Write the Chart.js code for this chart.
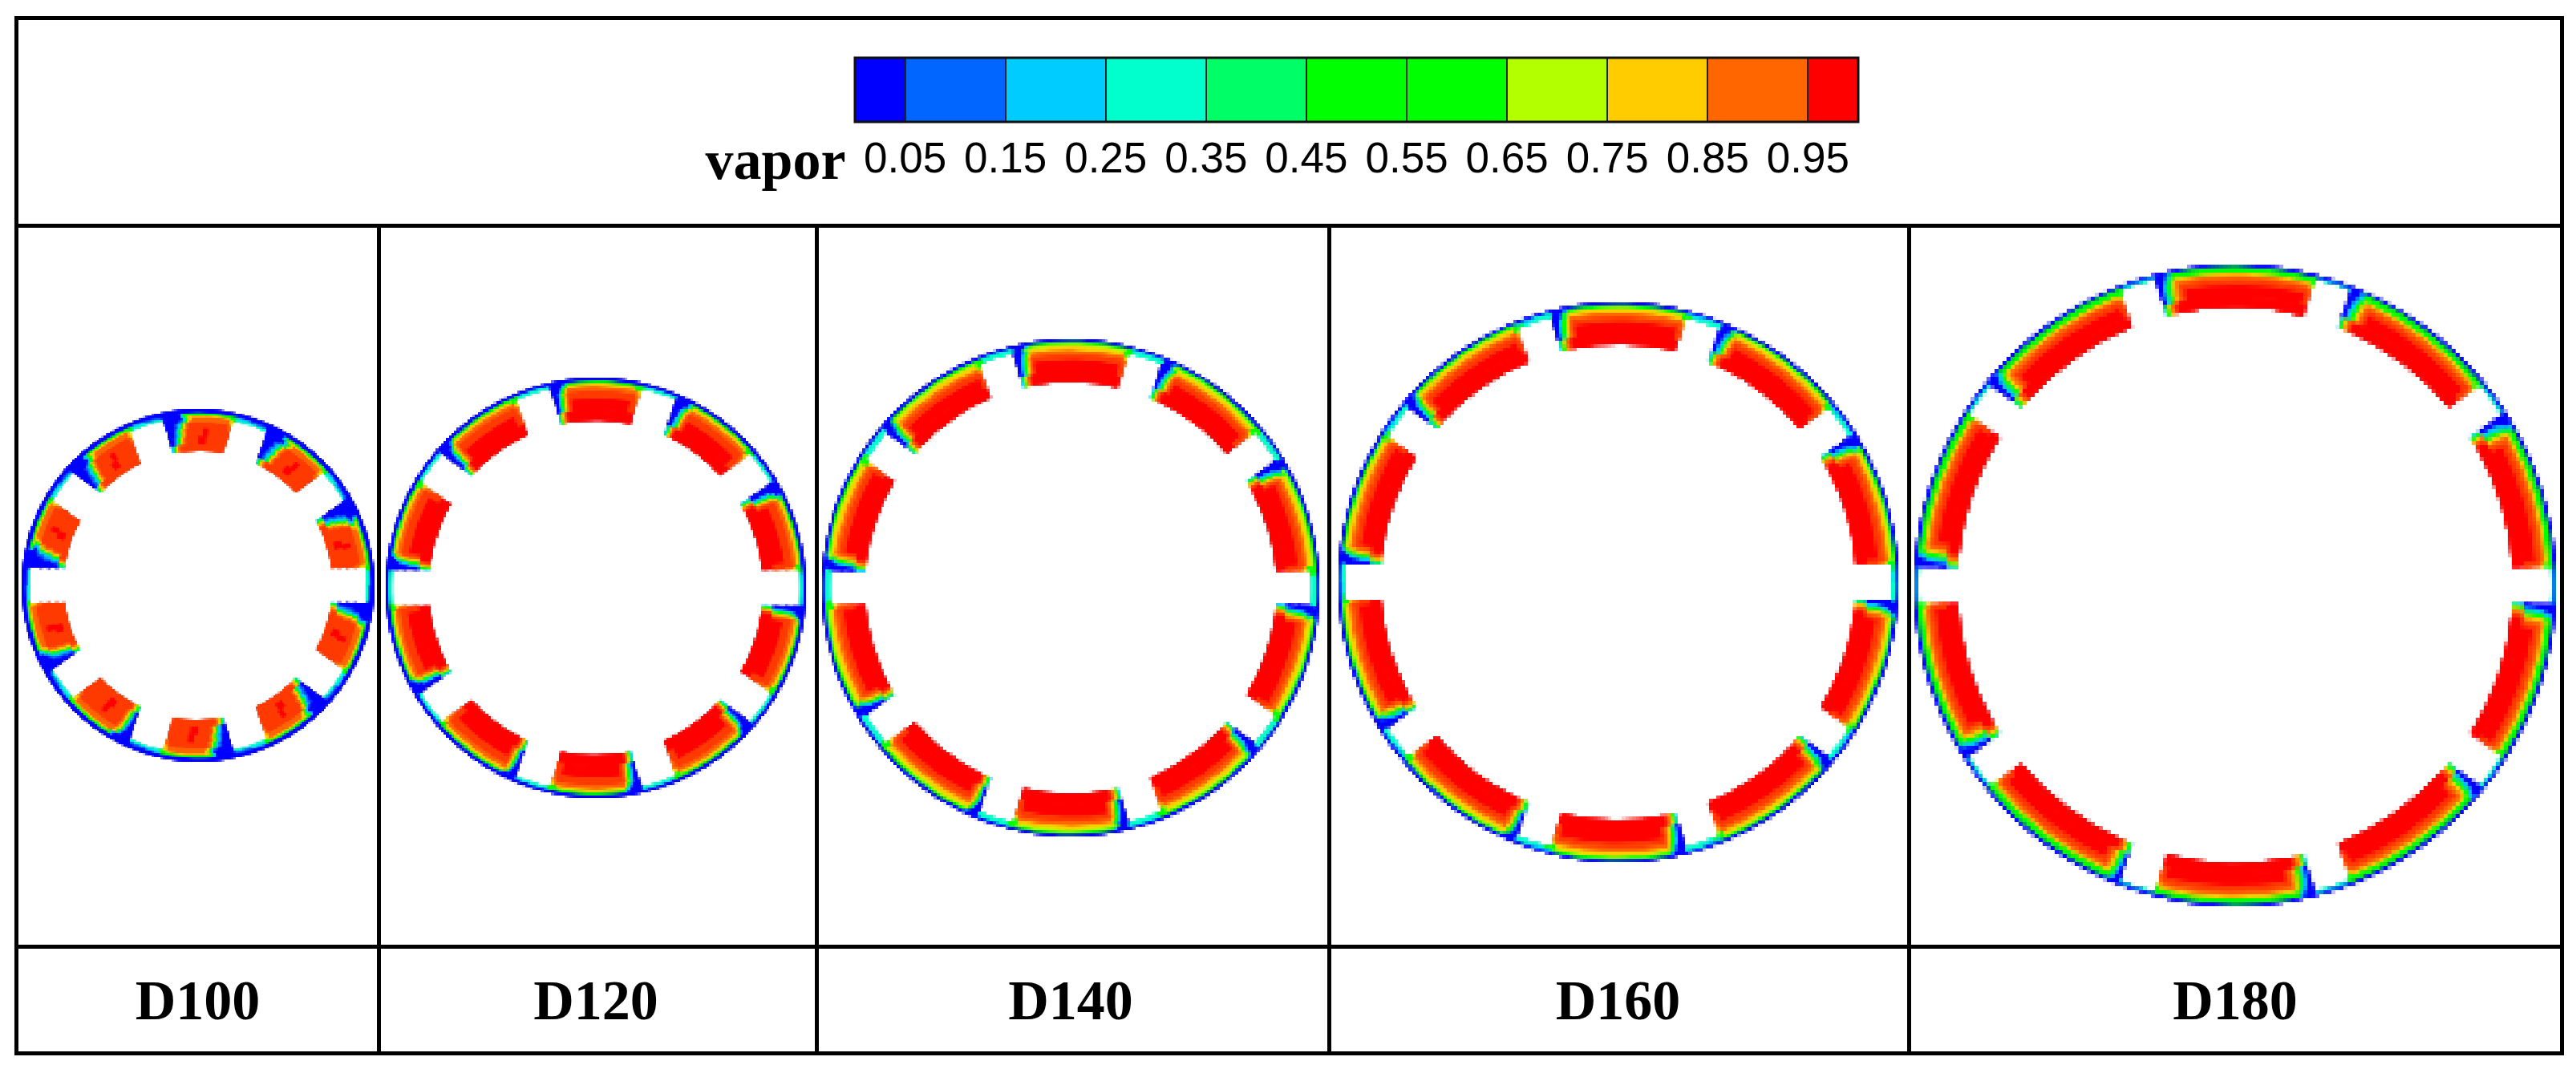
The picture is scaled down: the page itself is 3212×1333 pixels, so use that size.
<!DOCTYPE html>
<html lang="en">
<head>
<meta charset="UTF-8" />
<title>vapor contours D100-D180</title>
<script src="https://cdn.jsdelivr.net/npm/chart.js@4"></script>
<style>
  html, body { margin: 0; background: #fff; }
  body { position: relative; width: 3212px; height: 1333px; overflow: hidden; }
  .rule { position: absolute; background: #000; }
  canvas { position: absolute; }
  canvas.ring { image-rendering: pixelated; }
  .name { position: absolute; font: bold 70px "Liberation Serif", serif; line-height: 70px; transform: translateX(-50%); white-space: nowrap; }
</style>
</head>
<body>
<div class="rule" style="left:18px;top:20px;width:3179px;height:5px"></div>
<div class="rule" style="left:18px;top:279px;width:3179px;height:5px"></div>
<div class="rule" style="left:18px;top:1178px;width:3179px;height:5px"></div>
<div class="rule" style="left:18px;top:1311px;width:3179px;height:5px"></div>
<div class="rule" style="left:18px;top:20px;width:5px;height:1296px"></div>
<div class="rule" style="left:3192px;top:20px;width:5px;height:1296px"></div>
<div class="rule" style="left:470px;top:279px;width:5px;height:1037px"></div>
<div class="rule" style="left:1016px;top:279px;width:5px;height:1037px"></div>
<div class="rule" style="left:1655px;top:279px;width:5px;height:1037px"></div>
<div class="rule" style="left:2378px;top:279px;width:5px;height:1037px"></div>
<div class="name" style="left:967px;top:165px">vapor</div>

<canvas id="colorbar"></canvas>
<script>
// colour bar bins
const vaporEdges = [0, 0.05, 0.15, 0.25, 0.35, 0.45, 0.55, 0.65, 0.75, 0.85, 0.95, 1];
const vaporTicks = [0.05, 0.15, 0.25, 0.35, 0.45, 0.55, 0.65, 0.75, 0.85, 0.95];
const vaporColors = ["#0000ff", "#0066ff", "#00ccff", "#00ffcc", "#00ff66", "#00ff00", "#00ff00", "#b3ff00", "#ffcc00", "#ff6600", "#ff0000"];
const bladeCount = 10;

// ring tables: radii run outside to inside, each ring is one blade pitch read
// clockwise from the slot edge as bin numbers and degrees. null = rest of the blade
const d100Radii = [220, 215, 212, 210, 206, 203, 196, 186, 176, 168];
const d100Levels = [[0], [1, 0, 2, 5, 2], [3, 0, 2, 5, 8, 5, 3], [0, 2, 5, 8, 9, 8], [0, 1, 2, 5, 8, 9, 8], [0, 1, 2, 5, 8, 9, 9.5, 9], [0, 1, 2, 5, 8, 9, 9.5, 10, 9.5], [0, 1, 2, 5, 8, 9, 9.5, 10, 9.5], [2, 5, 8, 9, 9.5]];
const d100Spans = [[36], [5.5, 6.5, 1, 18, null], [5.8, 6.2, 1, 1, 15, 2, null], [6.5, 1, 1, 1.2, null, 1], [5, 1, 1, 1, 1, null, 0.8], [3.4, 1, 1, 0.9, 0.9, 1, null, 1], [2.4, 1, 1, 0.9, 0.9, 1, 6, 2, null], [1.4, 1, 1, 0.9, 0.9, 1, 5, 3, null], [0.5, 1, 1, 1, null]];
const d100Wedge = [1, 1.1, 1.1, 0.9, 1, 1, 0.6, 0.8, 1.1, 1];

const d120Radii = [262, 258, 255, 251, 246, 236, 222, 209];
const d120Levels = [[0], [3, 0, 2, 5, 3], [0, 2, 5, 8, 5], [0, 2, 5, 8, 9, 8], [0, 2, 5, 8, 9, 9.5, 9], [0, 2, 5, 8, 9, 9.5, 10, 9.5], [2, 5, 8, 9, 9.5, 10]];
const d120Spans = [[36], [5, 4, 0.8, 22, null], [3.2, 0.7, 0.7, null, 1.5], [2.4, 0.7, 0.6, 0.7, null, 0.8], [1.6, 0.8, 0.7, 0.7, 0.7, null, 0.8], [1.2, 0.8, 0.7, 0.7, 0.7, 0.8, null, 2], [0.4, 0.6, 0.6, 0.6, 0.6, null]];
const d120Wedge = [1, 1.2, 1.2, 0.9, 1, 1, 0.7, 1, 1, 1];

const d140Radii = [310, 307, 304, 301, 296, 291, 284, 270, 257];
const d140Levels = [[0], [3, 0, 2, 5, 3], [3, 0, 5, 7, 5, 3], [0, 2, 5, 8, 5], [0, 2, 5, 8, 9, 8], [0, 2, 5, 8, 9, 9.5, 9], [0, 2, 5, 8, 9, 9.5, 10, 9.5], [2, 5, 8, 9, 9.5, 10]];
const d140Spans = [[36], [4.5, 2.5, 0.7, 25, null], [4.5, 2, 0.7, 24, 2, null], [2.2, 0.7, 0.7, null, 1], [1.6, 0.7, 0.7, 0.7, null, 0.6], [1.2, 0.7, 0.7, 0.7, 0.7, null, 0.6], [0.9, 0.7, 0.7, 0.7, 0.7, 0.7, null, 1.2], [0.3, 0.6, 0.6, 0.6, 0.6, null]];
const d140Wedge = [1, 1.1, 1.2, 1, 1, 1, 0.7, 1, 1, 1];

const d160Radii = [349, 346, 343, 341, 336, 331, 324, 310, 297];
const d160Levels = [[0], [3, 0, 2, 5, 2], [3, 0, 5, 7, 5, 3], [0, 2, 5, 8, 5], [0, 2, 5, 8, 9, 8], [0, 2, 5, 8, 9, 9.5, 9], [0, 2, 5, 8, 9, 9.5, 10, 9.5], [2, 5, 8, 9, 9.5, 10]];
const d160Spans = [[36], [4, 2.5, 0.7, 25, null], [4, 2, 0.7, 25, 2, null], [2, 0.7, 0.7, null, 0.8], [1.4, 0.7, 0.7, 0.7, null, 0.5], [1.1, 0.7, 0.7, 0.7, 0.7, null, 0.5], [0.8, 0.7, 0.7, 0.7, 0.7, 0.7, null, 1], [0.3, 0.6, 0.6, 0.6, 0.6, null]];
const d160Wedge = [1, 1.1, 1.2, 1, 1, 1, 0.7, 1, 1, 1];

const d180Radii = [400, 397, 395, 390, 386, 381, 374, 360, 347];
const d180Levels = [[0], [3, 0, 2, 5, 3], [0, 2, 5], [0, 2, 5, 8, 5], [0, 2, 5, 8, 9, 8], [0, 2, 5, 8, 9, 9.5, 9], [0, 2, 5, 8, 9, 9.5, 10, 9.5], [2, 5, 8, 9, 9.5, 10]];
const d180Spans = [[36], [3.4, 2, 0.8, 27, null], [1.8, 0.8, null], [1.4, 0.8, 0.8, null, 0.5], [1.1, 0.8, 0.8, 0.8, null, 0.4], [0.9, 0.8, 0.8, 0.8, 0.8, null, 0.4], [0.7, 0.8, 0.8, 0.8, 0.8, 0.8, null, 1], [0.2, 0.6, 0.6, 0.6, 0.6, null]];
const d180Wedge = [1, 1.1, 1.2, 1, 1, 1, 0.7, 1, 1, 1];

const panels = [
  { name: "D100", cx: 246.5, cy: 729.5, slotHalf: 22, slotOuter: 210, radii: d100Radii, levels: d100Levels, spans: d100Spans, wedge: d100Wedge },
  { name: "D120", cx: 743, cy: 733, slotHalf: 22.5, slotOuter: 255, radii: d120Radii, levels: d120Levels, spans: d120Spans, wedge: d120Wedge },
  { name: "D140", cx: 1335, cy: 733, slotHalf: 22, slotOuter: 301, radii: d140Radii, levels: d140Levels, spans: d140Spans, wedge: d140Wedge },
  { name: "D160", cx: 2017.5, cy: 726, slotHalf: 22.5, slotOuter: 341, radii: d160Radii, levels: d160Levels, spans: d160Spans, wedge: d160Wedge },
  { name: "D180", cx: 2787, cy: 730, slotHalf: 23.5, slotOuter: 395, radii: d180Radii, levels: d180Levels, spans: d180Spans, wedge: d180Wedge }
];

const binColor = (level) => {
  if (Number.isInteger(level)) return vaporColors[level];
  return "#ff3a00"; // between the two top bins, the core of the blades
};

const ringDataset = (panel, ringIdx) => {
  const outer = panel.radii[ringIdx];
  const inner = panel.radii[ringIdx + 1];
  const mid = (outer + inner) / 2;
  const hasSlot = mid < panel.slotOuter;
  const gap = hasSlot ? Math.asin(panel.slotHalf / mid) * 180 / Math.PI : 0;
  const levels = panel.levels[ringIdx];
  const spans = panel.spans[ringIdx];
  const data = [];
  const colors = [];
  for (let b = 0; b < bladeCount; b++) {
    const scaled = spans.map((s, i) => {
      if (s === null) return null;
      const lead = hasSlot && spans.indexOf(null) > i && levels[i] <= 2;
      return lead ? s * panel.wedge[b] : s;
    });
    const known = scaled.reduce((sum, s) => sum + (s || 0), 0);
    const rest = Math.max(360 / bladeCount - 2 * gap - known, 0);
    data.push(gap);
    colors.push("rgba(255,255,255,0)");
    scaled.forEach((s, i) => {
      data.push(s === null ? rest : s);
      colors.push(binColor(levels[i]));
    });
    data.push(gap);
    colors.push("rgba(255,255,255,0)");
  }
  return { data, backgroundColor: colors, borderWidth: 0, weight: outer - inner };
};

// slices and rings share edges, paint them again so no white shows in the seams
const sealSeams = {
  id: "sealSeams",
  afterDatasetsDraw: (chart) => {
    for (let pass = 0; pass < 3; pass++) {
      chart.getSortedVisibleDatasetMetas().forEach((meta) => meta.controller.draw());
    }
  }
};

panels.forEach((panel) => {
  const R = panel.radii[0];
  const canvas = document.createElement("canvas");
  canvas.className = "ring";
  canvas.style.left = (panel.cx - R) + "px";
  canvas.style.top = (panel.cy - R) + "px";
  document.body.appendChild(canvas);
  canvas.width = 2 * R;
  canvas.height = 2 * R;
  new Chart(canvas, {
    type: "doughnut",
    data: { datasets: panel.radii.slice(0, -1).map((r, i) => ringDataset(panel, i)) },
    options: {
      responsive: false,
      animation: false,
      devicePixelRatio: 80 / R,
      rotation: -18,
      cutout: (panel.radii[panel.radii.length - 1] / R * 100) + "%",
      plugins: { legend: { display: false }, tooltip: { enabled: false } }
    },
    plugins: [sealSeams]
  });
  const label = document.createElement("div");
  label.className = "name";
  label.textContent = panel.name;
  label.style.left = panel.cx + "px";
  label.style.top = "1213px";
  document.body.appendChild(label);
});

// colour bar: one stacked bar per bin
const barCanvas = document.getElementById("colorbar");
barCanvas.width = 1265;
barCanvas.height = 170;
barCanvas.style.left = "1059px";
barCanvas.style.top = "66px";
new Chart(barCanvas, {
  type: "bar",
  data: {
    labels: ["vapor"],
    datasets: vaporColors.map((color, i) => ({
      data: [vaporEdges[i + 1] - vaporEdges[i]],
      backgroundColor: color,
      borderWidth: 0,
      barPercentage: 1,
      categoryPercentage: 1
    }))
  },
  options: {
    indexAxis: "y",
    responsive: false,
    animation: false,
    devicePixelRatio: 1,
    layout: { padding: { left: 7, right: 7, top: 6 } },
    plugins: { legend: { display: false }, tooltip: { enabled: false } },
    scales: {
      y: { display: false, stacked: true },
      x: {
        stacked: true,
        min: 0,
        max: 1,
        afterBuildTicks: (scale) => { scale.ticks = vaporTicks.map((value) => ({ value })); },
        afterFit: (scale) => { scale.height = 84; },
        border: { display: false },
        grid: { color: "#222", lineWidth: 2, drawTicks: false, z: 1 },
        ticks: {
          autoSkip: false,
          maxRotation: 0,
          padding: 17,
          color: "#000",
          font: { family: "Liberation Sans", size: 53 },
          callback: (value) => value.toFixed(2)
        }
      }
    }
  },
  plugins: [{
    id: "barFrame",
    afterDraw: (chart) => {
      const { ctx, chartArea } = chart;
      ctx.save();
      ctx.strokeStyle = "#111";
      ctx.lineWidth = 3;
      ctx.strokeRect(chartArea.left, chartArea.top, chartArea.width, chartArea.height);
      ctx.restore();
    }
  }]
});
</script>
</body>
</html>
